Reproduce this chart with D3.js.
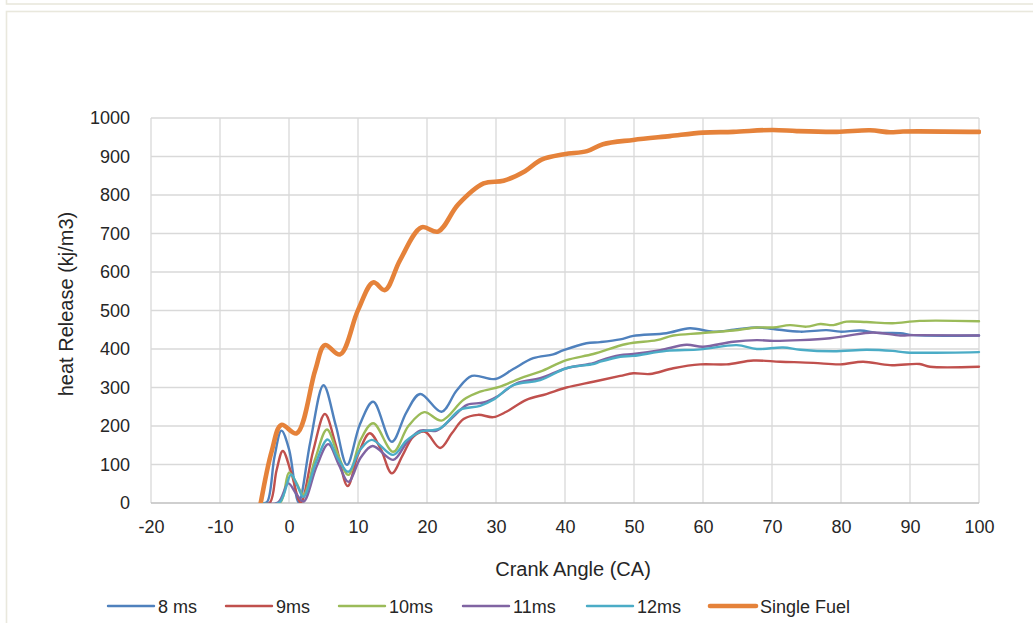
<!DOCTYPE html>
<html>
<head>
<meta charset="utf-8">
<script src="https://cdn.jsdelivr.net/npm/d3@7/dist/d3.min.js"></script>
<style>
  html, body { margin: 0; padding: 0; background: #ffffff; }
  svg { display: block; font-family: "Liberation Sans", Arial, sans-serif; }
</style>
</head>
<body>
<svg id="chart" width="1033" height="623"></svg>
<script>
// Cumulative heat release vs crank angle, [crank angle, heat release] pairs
const ms8 = [[-4,0],[-3.2,2],[-2.1,120],[-1.1,188],[0,140],[1.4,2],[3.1,160],[5,306],[6.8,200],[8.4,99],[10.3,205],[12.2,263],[14.9,159],[17,235],[19,283],[22.1,237],[24.3,292],[26.5,330],[29.9,322],[32.5,348],[35.4,376],[38.3,386],[39.8,397],[43.1,415],[45.1,418],[48,425],[49.9,434],[54.7,441],[58.1,454],[61.5,445],[64.5,450],[67.8,456],[70.2,452],[74.1,445],[77.9,449],[79.9,445],[82.8,448],[85.2,442],[88.6,441],[90.5,436],[100,435]];
const ms9 = [[-4,0],[-2.8,0],[-1.8,85],[-0.9,135],[0.3,80],[1.7,1],[3.5,135],[5.2,231],[6.8,150],[8.5,44],[10,125],[11.7,181],[13.3,140],[14.9,77],[16.5,125],[18,172],[19.7,185],[21.9,143],[23.6,181],[25.3,218],[27.4,229],[29.6,223],[31.5,237],[34.4,268],[37.3,283],[40.2,300],[44.1,315],[48,330],[49.9,337],[52.3,335],[55.7,350],[59.6,360],[63.4,360],[67.3,370],[71.2,367],[76,364],[79.9,360],[83.2,367],[87.1,358],[91.4,361],[92.9,354],[100,354]];
const ms10 = [[-4,0],[-1.3,1],[0,79],[1,55],[2.1,21],[3.8,115],[5.5,191],[7,130],[8.6,73],[10.4,165],[12.2,207],[15.1,133],[17.3,200],[19.6,236],[22.1,214],[25.3,268],[27.7,289],[30.6,302],[33.5,324],[36.4,341],[40.2,371],[44.1,387],[48.9,413],[53.3,423],[55.7,435],[59.6,441],[64.4,448],[67.8,456],[70.2,456],[72.6,462],[75,458],[77,465],[78.9,462],[80.8,471],[83.7,470],[87.5,467],[91.4,473],[100,472]];
const ms11 = [[-4,0],[-1.6,1],[-0.1,51],[1,25],[2.1,4],[4,95],[5.7,153],[7.2,100],[8.6,55],[10.4,118],[12.1,148],[15.1,112],[17,155],[19,188],[21.4,188],[23.8,224],[25.8,255],[28.2,261],[30.1,276],[33,311],[36.4,324],[40.2,350],[44.1,363],[45.1,370],[48,384],[49.9,387],[53.8,397],[57.6,411],[60,406],[64.4,419],[67.8,423],[70.2,421],[74.1,423],[78.4,428],[80.8,434],[84.7,443],[88.6,435],[90.5,436],[100,435]];
const ms12 = [[-4,0],[-1.4,1],[0.3,74],[1.2,45],[2.1,16],[3.9,105],[5.6,165],[7.1,115],[8.6,81],[10.3,138],[12,164],[15.1,125],[17,162],[19,185],[21.9,194],[24.8,242],[27.7,252],[29.6,268],[32.5,306],[36.4,319],[40.2,350],[44.1,361],[45.1,367],[48,380],[49.9,382],[54.7,395],[59.6,399],[64.9,410],[67.8,400],[71.6,404],[74.1,398],[78.9,394],[83.7,398],[87.5,395],[89.5,391],[100,392]];
const singleFuel = [[-4.1,0],[-2.5,135],[-1.1,203],[1.1,181],[3.8,345],[5.2,410],[7.4,386],[10,501],[12.2,573],[13.9,553],[16.1,631],[19.2,716],[21.6,705],[24.5,775],[28.2,830],[31.1,837],[34.2,862],[36.6,892],[39.9,906],[43.2,914],[45.5,932],[49.9,943],[55.2,953],[60,962],[64.4,964],[70.1,969],[73.6,966],[79.4,964],[84.2,968],[87.1,963],[89,965],[100,964]];

const seriesNames = ["8 ms", "9ms", "10ms", "11ms", "12ms", "Single Fuel"];
const seriesData = [ms8, ms9, ms10, ms11, ms12, singleFuel];
const seriesColors = ["#4f81bd", "#c0504d", "#9bbb59", "#8064a2", "#4bacc6", "#e5823a"];
const seriesWidths = [2.4, 2.4, 2.4, 2.4, 2.4, 4.6];

const xTicks = [-20, -10, 0, 10, 20, 30, 40, 50, 60, 70, 80, 90, 100];
const yTicks = [0, 100, 200, 300, 400, 500, 600, 700, 800, 900, 1000];

const svg = d3.select("#chart");
const W = 1033, H = 623;
const plot = { left: 151, right: 979, top: 118, bottom: 503 };

// page panels
svg.append("rect").attr("x", 6.5).attr("y", -20).attr("width", W + 20).attr("height", 24)
  .attr("fill", "none").attr("stroke", "#e9e8dd").attr("stroke-width", 1.6);
svg.append("rect").attr("x", 6.5).attr("y", 11.5).attr("width", W + 20).attr("height", H + 20)
  .attr("fill", "#ffffff").attr("stroke", "#e9e8dd").attr("stroke-width", 1.6);

const x = d3.scaleLinear().domain([-20, 100]).range([plot.left, plot.right]);
const y = d3.scaleLinear().domain([0, 1000]).range([plot.bottom, plot.top]);

// grid
const grid = svg.append("g");
grid.selectAll("line.v").data(xTicks).join("line")
  .attr("x1", d => x(d)).attr("x2", d => x(d))
  .attr("y1", plot.top).attr("y2", plot.bottom)
  .attr("stroke", "#d9d9d9").attr("stroke-width", 1.3);
grid.selectAll("line.h").data(yTicks).join("line")
  .attr("x1", plot.left).attr("x2", plot.right)
  .attr("y1", d => y(d)).attr("y2", d => y(d))
  .attr("stroke", d => d === 0 ? "#bfbfbf" : "#d9d9d9").attr("stroke-width", 1.3);

// tick labels via d3 axes (plain hyphen minus, no thousands separator)
const fmt = d => String(d);
const xAxis = svg.append("g").attr("transform", `translate(0,${plot.bottom})`)
  .call(d3.axisBottom(x).tickValues(xTicks).tickFormat(fmt).tickSize(0).tickPadding(17));
const yAxis = svg.append("g").attr("transform", `translate(${plot.left},0)`)
  .call(d3.axisLeft(y).tickValues(yTicks).tickFormat(fmt).tickSize(0).tickPadding(21));
[xAxis, yAxis].forEach(a => {
  a.select(".domain").remove();
  a.selectAll("text").attr("font-size", 18).attr("fill", "#262626")
    .attr("font-family", "'Liberation Sans', Arial, sans-serif");
});

// axis titles
svg.append("text").attr("x", 573).attr("y", 576).attr("text-anchor", "middle")
  .attr("font-size", 20).attr("fill", "#262626").text("Crank Angle (CA)");
svg.append("text").attr("transform", "translate(73,304) rotate(-90)").attr("text-anchor", "middle")
  .attr("font-size", 20).attr("fill", "#262626").text("heat Release (kj/m3)");

// series lines
svg.append("clipPath").attr("id", "plotClip").append("rect")
  .attr("x", plot.left).attr("y", plot.top - 10)
  .attr("width", plot.right - plot.left + 2).attr("height", plot.bottom - plot.top + 10);

const line = d3.line().x(d => x(d[0])).y(d => y(d[1])).curve(d3.curveCatmullRom.alpha(0.5));
const lines = svg.append("g").attr("clip-path", "url(#plotClip)");
seriesData.forEach((data, i) => {
  lines.append("path").datum(data)
    .attr("d", line)
    .attr("fill", "none")
    .attr("stroke", seriesColors[i])
    .attr("stroke-width", seriesWidths[i])
    .attr("stroke-linejoin", "round")
    .attr("stroke-linecap", "round");
});

// legend
const legendX = [108, 226, 339, 463, 587, 710];
const legend = svg.append("g");
seriesNames.forEach((name, i) => {
  const g = legend.append("g").attr("transform", `translate(${legendX[i]},606)`);
  g.append("line").attr("x1", 0).attr("x2", 46).attr("y1", 0).attr("y2", 0)
    .attr("stroke", seriesColors[i]).attr("stroke-width", seriesWidths[i])
    .attr("stroke-linecap", "round");
  g.append("text").attr("x", 50).attr("y", 6.5).attr("font-size", 18)
    .attr("fill", "#262626").text(name);
});
</script>
</body>
</html>
